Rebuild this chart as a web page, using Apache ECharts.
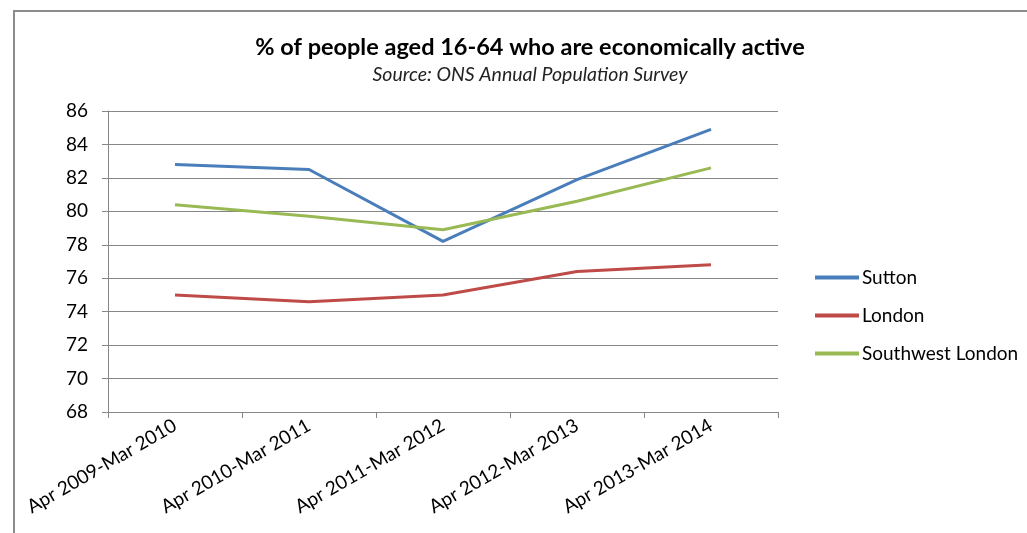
<!DOCTYPE html>
<html>
<head>
<meta charset="utf-8">
<script src="https://cdn.jsdelivr.net/npm/echarts@6/dist/echarts.min.js"></script>
<style>
  html, body { margin: 0; padding: 0; background: #fff; }
  #chart { width: 1027px; height: 533px; }
</style>
</head>
<body>
<div id="chart"></div>
<script>
var periods = ["Apr 2009-Mar 2010", "Apr 2010-Mar 2011", "Apr 2011-Mar 2012", "Apr 2012-Mar 2013", "Apr 2013-Mar 2014"];
var sutton = [82.8, 82.5, 78.2, 81.9, 84.9];
var london = [75.0, 74.6, 75.0, 76.4, 76.8];
var southwestLondon = [80.4, 79.7, 78.9, 80.6, 82.6];

var font = "Lato";
var axisGray = "#868686";

var chart = echarts.init(document.getElementById("chart"), null, { renderer: "canvas" });

function lineSeries(name, data, color) {
    return {
        name: name,
        type: "line",
        data: data,
        symbol: "none",
        lineStyle: { color: color, width: 3 },
        itemStyle: { color: color }
    };
}

chart.setOption({
    backgroundColor: "#fff",
    animation: false,
    graphic: [{
        type: "rect",
        shape: { x: 14, y: 11, width: 1030, height: 540 },
        style: { fill: "none", stroke: "#8c8c8c", lineWidth: 2 },
        silent: true
    }],
    title: {
        text: "% of people aged 16-64 who are economically active",
        subtext: "Source: ONS Annual Population Survey",
        left: 525,
        textAlign: "center",
        top: 30,
        itemGap: 6,
        textStyle: { fontFamily: font, fontSize: 23.5, fontWeight: "bold", color: "#000" },
        subtextStyle: { fontFamily: font, fontSize: 19.5, fontStyle: "italic", color: "#222" }
    },
    legend: {
        orient: "vertical",
        left: 810,
        top: 263,
        itemGap: 19,
        itemWidth: 44,
        itemHeight: 4,
        icon: "rect",
        textStyle: { fontFamily: font, fontSize: 19, color: "#000", padding: [0, 0, 0, -2] },
        data: ["Sutton", "London", "Southwest London"]
    },
    grid: { left: 108, right: 249, top: 111, bottom: 121 },
    xAxis: {
        type: "category",
        data: periods,
        boundaryGap: true,
        axisLine: { lineStyle: { color: axisGray } },
        axisTick: { show: true, alignWithLabel: false, length: 6, lineStyle: { color: axisGray } },
        axisLabel: { rotate: 30, fontFamily: font, fontSize: 19, color: "#000", margin: 12, interval: 0 }
    },
    yAxis: {
        type: "value",
        min: 68,
        max: 86,
        interval: 2,
        axisLine: { show: true, lineStyle: { color: axisGray } },
        axisTick: { show: true, inside: false, length: 6, lineStyle: { color: axisGray } },
        axisLabel: { fontFamily: font, fontSize: 19, color: "#000", margin: 20 },
        splitLine: { lineStyle: { color: axisGray, width: 1 } }
    },
    series: [
        lineSeries("Sutton", sutton, "#4A7EBB"),
        lineSeries("London", london, "#BE4B48"),
        lineSeries("Southwest London", southwestLondon, "#98B954")
    ]
});
</script>
</body>
</html>
